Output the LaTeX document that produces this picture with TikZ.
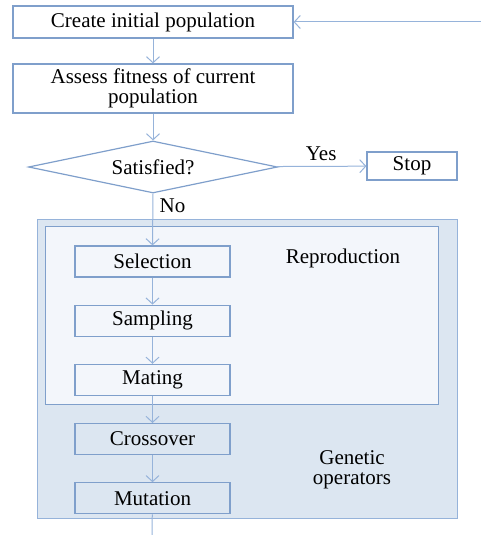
\documentclass[tikz,border=0pt]{standalone}
\usepackage{fontspec}
\setmainfont{Liberation Serif}
\newfontfamily\flowfont{Liberation Serif}
\usepackage{tikz}
\usetikzlibrary{positioning}
\usetikzlibrary{shapes.geometric}
\usetikzlibrary{arrows.meta}

\definecolor{boxline}{HTML}{7F9FCB}
\definecolor{flowline}{HTML}{96B3DA}
\definecolor{outerfill}{HTML}{DCE6F1}
\definecolor{innerfill}{HTML}{F3F6FB}

\begin{document}
\begin{tikzpicture}[x=1pt, y=-1pt, font=\flowfont\fontsize{21}{20.5}\selectfont,
	      stage/.style={draw=boxline, line width=1.2pt, rectangle, inner sep=0pt,
	                    minimum width=280pt, align=center},
	      opbox/.style={draw=boxline, line width=1.2pt, rectangle, inner sep=0pt,
	                    minimum width=155pt, minimum height=31pt},
	      flow/.style={draw=flowline, line width=1pt,
	                   -{Straight Barb[length=6pt,width=13pt]}}]
\useasboundingbox (0,0) rectangle (481,535);

% shaded regions
\fill[outerfill, draw=flowline, line width=1pt] (37,219) rectangle (457,518);
\fill[innerfill, draw=boxline, line width=1pt] (45,226) rectangle (438,404);

\node[stage, minimum height=32pt] (create) at (153,22) {Create initial population};
\node[stage, minimum height=49pt] (assess) at (153,88.5) {Assess fitness of current\\population};
\node[diamond, aspect=4.8, draw=boxline, line width=1.2pt, inner sep=0pt,
      minimum width=249pt, minimum height=52pt] (sat) at (153,167) {Satisfied?};
\node[draw=boxline, line width=1.2pt, inner sep=0pt, minimum width=90pt,
      minimum height=28pt] (stop) at (412,166) {Stop};

\node[opbox] (selection) at (152.5,261.5) {Selection};
\node[opbox, below=27pt of selection] (sampling) {Sampling};
\node[opbox, below=27pt of sampling] (mating) {Mating};
\node[opbox, below=27pt of mating] (crossover) {Crossover};
\node[opbox, below=27pt of crossover] (mutation) {Mutation};

\node (reproduction) at (343,258) {Reproduction};
\node[align=center] (genetic) at (352,470) {Genetic\\operators};

\coordinate (loop in) at (481,22);
\coordinate (loop out) at (152,535);

\draw[flow] (create) -- (assess);
\draw[flow] (assess) -- (sat);
\draw[flow] (sat) -- node[above=2pt] (yes) {Yes} (stop);
\draw[flow] (sat.south) -- (selection.north)
      node[pos=0.23, right=3pt] (no) {No};
\draw[flow] (selection) -- (sampling);
\draw[flow] (sampling) -- (mating);
\draw[flow] (mating) -- (crossover);
\draw[flow] (crossover) -- (mutation);
\draw[flow] (loop in) -- (create);
\draw[draw=flowline, line width=1pt] (mutation) -- (loop out);
\end{tikzpicture}
\end{document}
